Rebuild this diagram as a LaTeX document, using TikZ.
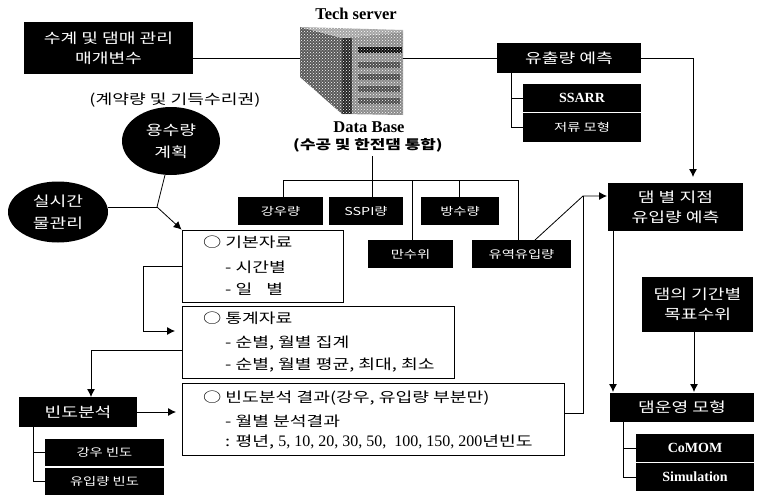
\documentclass[tikz,border=0pt]{standalone}
\usepackage{fontspec}
\setmainfont{Liberation Serif}
\newfontfamily\kor[FakeStretch=1.3]{Noto Sans CJK KR}
\usetikzlibrary{arrows.meta,patterns,shapes.geometric}
\tikzset{
  blackbox/.style={fill=black, text=white, inner sep=0pt, font=\kor\fontsize{14}{20}\selectfont, align=center},
  smallbox/.style={blackbox, font=\kor\fontsize{11}{14}\selectfont},
  latinbox/.style={blackbox, font=\bfseries\fontsize{14}{16}\selectfont},
  infobox/.style={draw, line width=0.8pt, fill=white, inner sep=0pt},
  blackoval/.style={ellipse, fill=black, text=white, inner sep=0pt, font=\kor\fontsize{14}{22}\selectfont, align=center},
  infotext/.style={anchor=west, inner sep=0pt, font=\kor\fontsize{14}{16}\selectfont},
  serverlabel/.style={inner sep=0pt, font=\bfseries\fontsize{16.5}{18}\selectfont},
  link/.style={draw, line width=0.8pt},
  flow/.style={link, -{Latex[length=8pt,width=8pt]}}
}
\begin{document}
\begin{tikzpicture}[x=1pt,y=-1pt]
  \useasboundingbox (0,0) rectangle (759,495);

  % Server
  \fill[black!65] (300,27) -- (342,38) -- (342,114) -- (300,77) -- cycle;
  \fill[black!45] (342,38) -- (403,32) -- (403,115) -- (342,114) -- cycle;
  \fill[black!35] (300,27) -- (403,30) -- (403,32) -- (342,38) -- cycle;
  \fill[black!85] (342,38) rectangle (352,114);
  \fill[black!95] (358,47) rectangle (402,53);
  \foreach \y in {62,74,86,98} {
    \fill[black!70] (358,\y) rectangle (400,\y+6);
  }
  \fill[pattern=crosshatch dots, pattern color=white] (300,27) -- (403,30) -- (403,115) -- (342,114) -- (300,77) -- cycle;
  \coordinate (server west) at (300,58);
  \coordinate (server east) at (403,58);
  \node[serverlabel] (server) at (356,14) {Tech server};
  \node[serverlabel] (database) at (369,127) {Data Base};
  \node[inner sep=0pt, font=\kor\bfseries\fontsize{13}{15}\selectfont] (merge) at (368,145) {(수공 및 한전댐 통합)};

  % Top left
  \node[blackbox, minimum width=169pt, minimum height=51pt] (param) at (108.5,48) {수계 및 댐매 관리\\매개변수\hspace{42pt}};
  \node[inner sep=0pt, font=\kor\fontsize{14}{16}\selectfont] (contract) at (175,100) {(계약량 및 기득수리권)};
  \node[blackoval, minimum width=98pt, minimum height=68pt] (plan) at (171,141) {용수량\\계획};
  \node[blackoval, minimum width=100pt, minimum height=61pt] (water) at (58,212) {실시간\\물관리};
  \coordinate (join) at (157,207);
  \draw[link] (param.east |- server west) -- (server west);
  \draw[link] (water.east |- join) -- (join);
  \draw[link] (plan.260) -- (join);

  % Forecast
  \node[blackbox, minimum width=144pt, minimum height=30pt] (forecast) at (569,58) {유출량 예측};
  \node[latinbox, minimum width=118pt, minimum height=28pt] (ssarr) at (582,98) {SSARR};
  \node[smallbox, minimum width=118pt, minimum height=29pt] (storage) at (582,127) {저류 모형};
  \coordinate (forecast foot) at (511,73);
  \draw[link] (server east) -- (forecast.west);
  \draw[link] (forecast foot) |- (ssarr.west);
  \draw[link] (forecast foot) |- (storage.west);

  % Data base tree
  \node[smallbox, minimum width=85pt, minimum height=28pt] (rain) at (280.5,211) {강우량};
  \node[smallbox, minimum width=74pt, minimum height=28pt] (spi) at (366,211) {SSPI량};
  \node[smallbox, minimum width=78pt, minimum height=28pt] (level) at (460,211) {방수량};
  \node[smallbox, minimum width=85pt, minimum height=28pt] (inflow) at (410.5,254) {만수위};
  \node[smallbox, minimum width=99pt, minimum height=28pt] (outflow) at (521.5,254) {유역유입량};
  \coordinate (base foot) at (372,156);
  \coordinate (tree left) at (283,180);
  \coordinate (tree right) at (518,180);
  \draw[link] (base foot) -- (372,197);
  \draw[link] (tree left |- rain.north) -- (tree left) -- (tree right) -- (tree right |- outflow.north);
  \draw[link] (412,180) -- (412,240);
  \draw[link] (level.north -| 459,0) -- (459,180);

  % Info boxes
  \node[infobox, minimum width=161pt, minimum height=72pt] (basic) at (262.5,266) {};
  \node[infobox, minimum width=272pt, minimum height=72pt] (stats) at (318,342) {};
  \node[infobox, minimum width=382pt, minimum height=72pt] (freq) at (373,419) {};
  \node[infotext] (basic1) at (203,242) {○ 기본자료};
  \node[infotext] (basic2) at (225,267) {- 시간별};
  \node[infotext] (basic3) at (225,289) {- 일\quad 별};
  \node[infotext] (stats1) at (203,318) {○ 통계자료};
  \node[infotext] (stats2) at (225,343) {- 순별, 월별 집계};
  \node[infotext] (stats3) at (225,365) {- 순별, 월별 평균, 최대, 최소};
  \node[infotext] (freq1) at (203,398) {○ 빈도분석 결과(강우, 유입량 부분만)};
  \node[infotext] (freq2) at (225,421) {- 월별 분석결과};
  \node[infotext] (freq3) at (225,442) {: 평년, {\rmfamily\fontsize{16}{16}\selectfont 5, 10, 20, 30, 50,\enspace 100, 150, 200}년빈도};

  \draw[flow] (join) -- (basic.north west);
  \draw[flow] (basic.west) -- (143,266) |- (175,331);
  \draw[flow] (stats.west |- 0,350) -| (91,397);

  % Frequency analysis
  \node[blackbox, minimum width=118pt, minimum height=30pt] (analysis) at (78,412) {빈도분석};
  \node[smallbox, minimum width=119pt, minimum height=27pt] (rainfreq) at (104.5,452.5) {강우 빈도};
  \node[smallbox, minimum width=119pt, minimum height=27pt] (flowfreq) at (104.5,481.5) {유입량 빈도};
  \coordinate (analysis foot) at (33,427);
  \draw[flow] (analysis.east) -- (176,412);
  \draw[link] (analysis foot) |- (rainfreq.west);
  \draw[link] (analysis foot) |- (flowfreq.west);

  % Right column
  \node[blackbox, minimum width=135pt, minimum height=48pt] (dam) at (675.5,207) {댐 별 지점\\유입량 예측};
  \node[blackbox, minimum width=111pt, minimum height=55pt] (target) at (697.5,304.5) {댐의 기간별\\목표수위};
  \node[blackbox, minimum width=144pt, minimum height=29pt] (model) at (682,407.5) {댐운영 모형};
  \node[latinbox, minimum width=118pt, minimum height=28pt] (comom) at (695,448) {CoMOM};
  \node[latinbox, minimum width=118pt, minimum height=28pt] (sim) at (695,477) {Simulation};
  \coordinate (bend) at (583,196);
  \coordinate (model foot) at (623,422);
  \draw[flow] (forecast.east) -| (693,177);
  \draw[flow] (535,240) -- (bend) -- (607,196);
  \draw[link] (freq.east |- 0,413) -| (bend);
  \draw[flow] (613,231) -- (613,392);
  \draw[flow] (694,332) -- (694,392);
  \draw[link] (model foot) |- (comom.west);
  \draw[link] (model foot) |- (sim.west);
\end{tikzpicture}
\end{document}
